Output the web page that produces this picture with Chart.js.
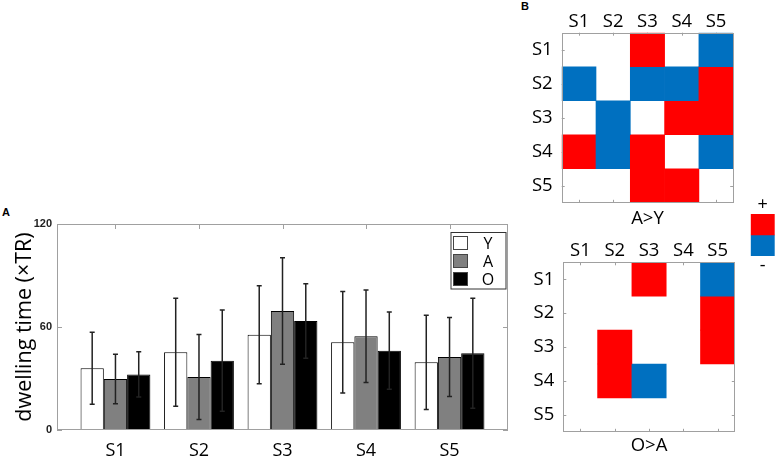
<!DOCTYPE html>
<html>
<head>
<meta charset="utf-8">
<script src="https://cdn.jsdelivr.net/npm/chart.js@4.4.1/dist/chart.umd.min.js"></script>
<style>
  body { margin: 0; width: 780px; height: 457px; position: relative; background: #fff; overflow: hidden; }
  .box { position: absolute; }
  .letter { position: absolute; font: bold 11px 'Liberation Sans', Arial, sans-serif; color: #000; }
</style>
</head>
<body>
<div class="letter" style="left:2px;top:206px">A</div>
<div class="letter" style="left:521px;top:0px">B</div>
<div class="box" style="left:0;top:200px;width:520px;height:257px"><canvas id="barChart"></canvas></div>
<div class="box" style="left:520px;top:0;width:225px;height:230px"><canvas id="mapAY"></canvas></div>
<div class="box" style="left:520px;top:230px;width:225px;height:227px"><canvas id="mapOA"></canvas></div>
<div class="box" style="left:740px;top:192px;width:40px;height:84px"><canvas id="colorBar"></canvas></div>
<script>
const regions = ['S1', 'S2', 'S3', 'S4', 'S5'];
const groups = ['Y', 'A', 'O'];
const meanY = [36.0, 45.3, 55.5, 51.1, 39.4];
const meanA = [29.7, 30.9, 69.3, 54.6, 42.5];
const meanO = [32.4, 40.4, 63.5, 46.2, 44.7];
const sdY = [21.0, 31.5, 28.6, 29.6, 27.4];
const sdA = [14.4, 24.8, 31.0, 27.0, 23.0];
const sdO = [13.2, 29.5, 21.7, 22.5, 32.0];
const yTicks = [0, 60, 120];

// rows = S1..S5 (top to bottom), cols = S1..S5; +1 red, -1 blue, 0 none
const diffAY = [
    [0, 0, 1, 0, -1],
    [-1, 0, -1, -1, 1],
    [0, -1, 0, 1, 1],
    [1, -1, 1, 0, -1],
    [0, 0, 1, 1, 0]
];
const diffOA = [
    [0, 0, 1, 0, -1],
    [0, 0, 0, 0, 1],
    [0, 1, 0, 0, 1],
    [0, 1, -1, 0, 0],
    [0, 0, 0, 0, 0]
];
const signLabels = ['+', '-'];

const posColor = '#ff0000';
const negColor = '#0070c0';
const frameColor = '#a0a0a0';
const textColor = '#000';
const labelFont = "'Open Sans', 'Noto Sans', sans-serif";

// box around plot area + small inner tick marks (MATLAB look)
const framePlugin = {
    id: 'frame',
    beforeDatasetsDraw(chart, args, opts) {
        const { ctx, chartArea: a, scales } = chart;
        const len = opts.tickLen || 4;
        ctx.save();
        ctx.strokeStyle = frameColor;
        ctx.lineWidth = 1;
        ctx.beginPath();
        scales.x.ticks.forEach((t, i) => {
            const px = Math.round(scales.x.getPixelForTick(i)) + 0.5;
            ctx.moveTo(px, a.top); ctx.lineTo(px, a.top + len);
            ctx.moveTo(px, a.bottom); ctx.lineTo(px, a.bottom - len);
        });
        scales.y.ticks.forEach((t, i) => {
            const py = Math.round(scales.y.getPixelForTick(i)) + 0.5;
            ctx.moveTo(a.left, py); ctx.lineTo(a.left + len, py);
            ctx.moveTo(a.right, py); ctx.lineTo(a.right - len, py);
        });
        ctx.stroke();
        ctx.restore();
    },
    afterDatasetsDraw(chart) {
        const { ctx, chartArea: a } = chart;
        ctx.save();
        ctx.strokeStyle = frameColor;
        ctx.lineWidth = 1;
        ctx.strokeRect(Math.round(a.left) + 0.5, Math.round(a.top) + 0.5,
            Math.round(a.width) - 1, Math.round(a.height) - 1);
        ctx.restore();
    }
};

const errorBarPlugin = {
    id: 'errorBars',
    afterDatasetsDraw(chart) {
        const { ctx, scales } = chart;
        ctx.save();
        ctx.strokeStyle = '#222';
        ctx.lineWidth = 1.5;
        chart.data.datasets.forEach((ds, di) => {
            const meta = chart.getDatasetMeta(di);
            meta.data.forEach((bar, i) => {
                const m = ds.data[i].y, sd = ds.errors[i];
                const yt = scales.y.getPixelForValue(m + sd);
                const yb = scales.y.getPixelForValue(m - sd);
                ctx.beginPath();
                ctx.moveTo(bar.x, yt); ctx.lineTo(bar.x, yb);
                ctx.moveTo(bar.x - 2.5, yt); ctx.lineTo(bar.x + 2.5, yt);
                ctx.moveTo(bar.x - 2.5, yb); ctx.lineTo(bar.x + 2.5, yb);
                ctx.stroke();
            });
        });
        ctx.restore();
    }
};

const boxLegendPlugin = {
    id: 'boxLegend',
    afterDraw(chart) {
        const { ctx, chartArea: a } = chart;
        const left = a.right - 57, top = a.top + 8.5, w = 55, h = 56.5;
        ctx.save();
        ctx.fillStyle = '#fff';
        ctx.fillRect(left, top, w, h);
        ctx.strokeStyle = '#333';
        ctx.lineWidth = 1;
        ctx.strokeRect(left, top, w, h);
        ctx.font = '16px ' + labelFont;
        ctx.textAlign = 'center';
        ctx.textBaseline = 'middle';
        chart.data.datasets.forEach((ds, i) => {
            const cy = top + 10.5 + i * 18;
            ctx.fillStyle = ds.backgroundColor;
            ctx.fillRect(left + 2.5, cy - 6.5, 14, 13);
            ctx.strokeStyle = '#444';
            ctx.strokeRect(left + 2.5, cy - 6.5, 14, 13);
            ctx.fillStyle = textColor;
            ctx.fillText(ds.label, left + 37, cy + 1);
        });
        ctx.restore();
    }
};

const groupMeans = [meanY, meanA, meanO];
const groupSds = [sdY, sdA, sdO];
const groupFill = ['#ffffff', '#808080', '#000000'];

new Chart(document.getElementById('barChart'), {
    type: 'bar',
    data: {
        datasets: groups.map((g, gi) => ({
            label: g,
            data: groupMeans[gi].map((v, i) => ({ x: i + 1, y: v })),
            errors: groupSds[gi],
            backgroundColor: groupFill[gi],
            borderColor: '#000',
            borderWidth: 1,
            borderSkipped: false,
            categoryPercentage: 0.836,
            barPercentage: 1
        }))
    },
    options: {
        responsive: true,
        maintainAspectRatio: false,
        animation: false,
        devicePixelRatio: 1,
        layout: { padding: { top: 24, right: 12, left: 0, bottom: 0 } },
        plugins: { legend: { display: false }, tooltip: { enabled: false }, frame: { tickLen: 5 } },
        scales: {
            x: {
                type: 'linear',
                min: 0.3,
                max: 5.7,
                offset: false,
                afterBuildTicks: s => { s.ticks = regions.map((r, i) => ({ value: i + 1 })); },
                afterFit: s => { s.height = 27; },
                ticks: {
                    callback: v => regions[v - 1],
                    font: { family: labelFont, size: 18 },
                    color: textColor,
                    padding: 10,
                    maxRotation: 0,
                    autoSkip: false
                },
                grid: { display: false, drawTicks: false },
                border: { display: false }
            },
            y: {
                min: 0,
                max: 120,
                afterBuildTicks: s => { s.ticks = yTicks.map(v => ({ value: v })); },
                afterFit: s => { s.width = 57; },
                ticks: {
                    font: { family: "'Liberation Sans', Arial, sans-serif", size: 11, weight: 'bold' },
                    color: '#222',
                    padding: 5
                },
                grid: { display: false, drawTicks: false },
                border: { display: false },
                title: {
                    display: true,
                    text: 'dwelling time (×TR)',
                    font: { family: labelFont, size: 21.5 },
                    color: textColor,
                    padding: { top: 12, bottom: 0 }
                }
            }
        }
    },
    plugins: [framePlugin, errorBarPlugin, boxLegendPlugin]
});

function heatDatasets(matrix) {
    return matrix.map((row, r) => ({
        label: regions[r],
        data: row.map(() => [r, r + 1]),
        backgroundColor: row.map(v => v > 0 ? posColor : v < 0 ? negColor : 'rgba(0,0,0,0)'),
        borderWidth: 0,
        grouped: false,
        barPercentage: 1,
        categoryPercentage: 1
    }));
}

function heatmap(id, matrix, title, axisW, axisH, titlePad) {
    return new Chart(document.getElementById(id), {
        type: 'bar',
        data: { labels: regions, datasets: heatDatasets(matrix) },
        options: {
            responsive: true,
            maintainAspectRatio: false,
            animation: false,
            devicePixelRatio: 1,
            layout: { padding: { top: 0, right: 225 - axisW - 171.5, left: 0, bottom: 0 } },
            plugins: {
                legend: { display: false },
                tooltip: { enabled: false },
                frame: { tickLen: 3 },
                title: {
                    display: true,
                    text: title,
                    position: 'bottom',
                    fullSize: false,
                    font: { family: labelFont, size: 18.5, weight: 'normal', lineHeight: 1.2 },
                    color: textColor,
                    padding: titlePad
                }
            },
            scales: {
                x: {
                    position: 'top',
                    afterFit: s => { s.height = axisH; },
                    ticks: { font: { family: labelFont, size: 18.5 }, color: textColor, padding: 0, maxRotation: 0 },
                    grid: { display: false, drawTicks: false },
                    border: { display: false }
                },
                y: {
                    reverse: true,
                    min: 0,
                    max: 5,
                    afterBuildTicks: s => { s.ticks = regions.map((r, i) => ({ value: i + 0.5 })); },
                    afterFit: s => { s.width = axisW; },
                    ticks: {
                        callback: (v, i) => regions[i],
                        font: { family: labelFont, size: 18.5 },
                        color: textColor,
                        padding: 9
                    },
                    grid: { display: false, drawTicks: false },
                    border: { display: false }
                }
            }
        },
        plugins: [framePlugin]
    });
}

heatmap('mapAY', diffAY, 'A>Y', 41.7, 32.7, { top: 5, bottom: 0 });
heatmap('mapOA', diffOA, 'O>A', 43.3, 32.3, { top: 3, bottom: 0 });

new Chart(document.getElementById('colorBar'), {
    type: 'bar',
    data: {
        labels: [''],
        datasets: [
            { data: [[0, 1]], backgroundColor: posColor, grouped: false },
            { data: [[-1, 0]], backgroundColor: negColor, grouped: false }
        ]
    },
    options: {
        responsive: true,
        maintainAspectRatio: false,
        animation: false,
        devicePixelRatio: 1,
        layout: { padding: { left: 10.7, right: 5.3, top: 0, bottom: 0 } },
        datasets: { bar: { barPercentage: 1, categoryPercentage: 1, borderWidth: 0 } },
        plugins: {
            legend: { display: false },
            tooltip: { enabled: false },
            title: {
                display: true, text: signLabels[0], position: 'top',
                font: { family: labelFont, size: 18, weight: 'normal', lineHeight: 1 },
                color: textColor, padding: { top: 4, bottom: 0 }
            },
            subtitle: {
                display: true, text: signLabels[1], position: 'bottom',
                font: { family: labelFont, size: 18, lineHeight: 1 },
                color: textColor, padding: { top: 1, bottom: 1 }
            }
        },
        scales: {
            x: { display: false },
            y: { display: false, min: -1, max: 1 }
        }
    }
});
</script>
</body>
</html>
